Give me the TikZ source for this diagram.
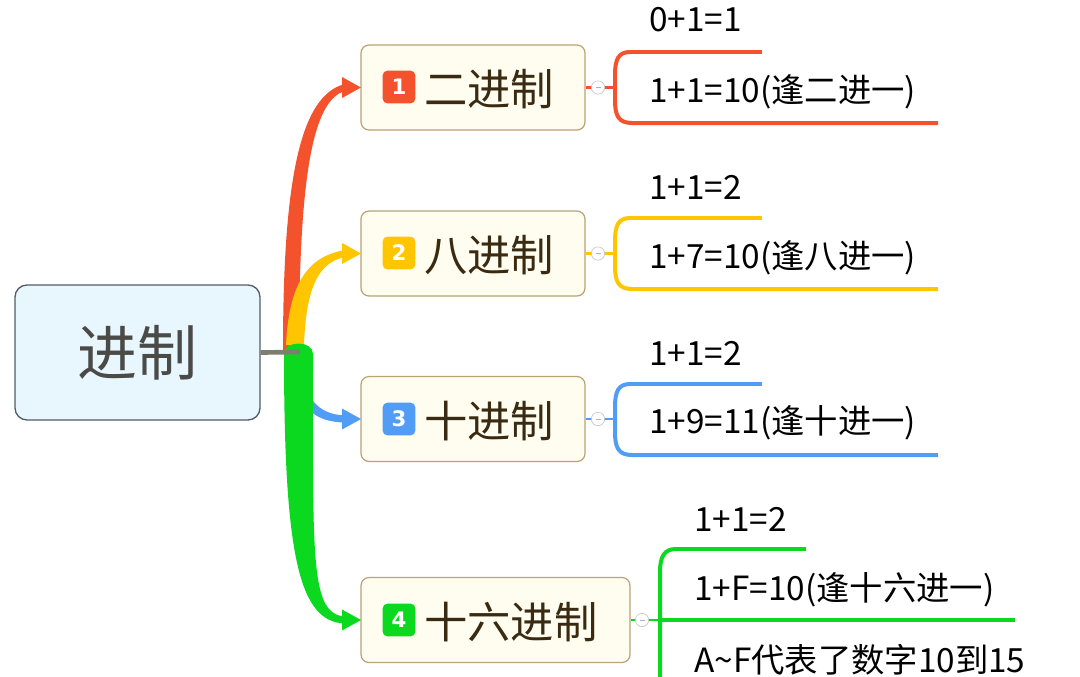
\documentclass[tikz,border=0pt]{standalone}
\usepackage{fontspec}
\setmainfont{Noto Sans CJK SC}
\newfontfamily\numfont{DejaVu Sans}
\usetikzlibrary{calc}
\definecolor{cred}{HTML}{F4512D}
\definecolor{cyel}{HTML}{FFC600}
\definecolor{cblu}{HTML}{519CF4}
\definecolor{cgrn}{HTML}{0BD91F}
\definecolor{boxfill}{HTML}{FFFDF0}
\definecolor{boxborder}{HTML}{B9A274}
\definecolor{cenfill}{HTML}{E8F6FE}
\definecolor{cenborder}{HTML}{535C66}
\definecolor{centxt}{HTML}{4A4A46}
\definecolor{topictxt}{HTML}{3A2A12}
\definecolor{hubline}{HTML}{7F7D6C}
\begin{document}
\begin{tikzpicture}[x=0.75pt,y=-0.75pt,
  central/.style={draw=cenborder, fill=cenfill, rounded corners=9pt, line width=1pt,
    minimum width=183.75pt, minimum height=101.25pt, inner sep=0, text=centxt,
    font=\fontsize{45}{45}\selectfont},
  topicbox/.style={draw=boxborder, fill=boxfill, rounded corners=6pt, line width=0.9pt,
    minimum height=63.75pt, inner sep=0},
  icon/.style={rounded corners=3.5pt, minimum width=24.5pt, minimum height=24.5pt, inner sep=0,
    text=white, font=\numfont\bfseries\fontsize{16}{16}\selectfont},
  topictext/.style={anchor=west, text=topictxt, inner sep=0, font=\fontsize{32.5}{32.5}\selectfont},
  leaf/.style={anchor=west, inner sep=0, text=black, font=\fontsize{25}{25}\selectfont},
  bracel/.style={line width=3pt, line cap=butt},
  collapse/.style={circle, draw=gray!45, fill=white, minimum size=10pt, inner sep=0, line width=0.5pt},
]
\useasboundingbox (0,0) rectangle (1080,676);
\clip (0,0) rectangle (1080,676);

% central node
\node[central] (cen) at (137.5,352.5) {进制};

% topic boxes
\node[topicbox, minimum width=168pt] (b1) at (473,87.5) {};
\node[topicbox, minimum width=168pt] (b2) at (473,253.5) {};
\node[topicbox, minimum width=168pt] (b3) at (473,419) {};
\node[topicbox, minimum width=201.75pt] (b4) at (495.5,620) {};

\node[icon, fill=cred] (i1) at (399,87) {1};
\node[icon, fill=cyel] (i2) at (399,253) {2};
\node[icon, fill=cblu] (i3) at (399,419) {3};
\node[icon, fill=cgrn] (i4) at (399,620) {4};

\node[topictext] (t1) at (424,89) {二进制};
\node[topictext] (t2) at (424,255) {八进制};
\node[topictext] (t3) at (424,421) {十进制};
\node[topictext] (t4) at (424,622) {十六进制};

% tapered branches
\fill[cred] (283,350) .. controls (283,180) and (300,95) .. (345,84)
  -- (345,91) .. controls (312,100) and (299,180) .. (299,350) -- cycle;
\fill[cred] (342,77) -- (361,87.5) -- (342,98) -- cycle;
\fill[cyel] (286,345) .. controls (289,280) and (310,256) .. (345,250)
  -- (345,257) .. controls (320,262) and (306,285) .. (304,345) -- cycle;
\fill[cyel] (342,243) -- (361,253.5) -- (342,264) -- cycle;
\fill[cblu] (298,352) .. controls (303,400) and (318,414) .. (345,415.5)
  -- (345,422.5) .. controls (312,422) and (300,405) .. (296,380) -- cycle;
\fill[cblu] (342,408.5) -- (361,419) -- (342,429.5) -- cycle;
\fill[cgrn] (284,354) .. controls (284,340) and (313,340) .. (313,354)
  .. controls (313,560) and (310,614) .. (345,616.5)
  -- (345,623.5) .. controls (300,622) and (284,560) .. (284,354) -- cycle;
\fill[cgrn] (342,609.5) -- (361,620) -- (342,630.5) -- cycle;

% hub line
\coordinate (hub) at (300,352);
\draw[hubline, line width=3.5pt] (cen.east) -- (hub);

% ---- branch 1
\draw[cred, line width=2pt] (b1.east) -- (615,87.5);
\node[collapse] (k1) at (598,87.5) {};
\draw[gray!60, line width=0.5pt] ($(k1)+(-2.5,0)$) -- ($(k1)+(2.5,0)$);
\draw[cred, bracel] (630,52) .. controls (618,52) and (615,60) .. (615,75) -- (615,100)
  .. controls (615,115) and (618,123) .. (632,123) -- (938,123);
\draw[cred, bracel] (628,52) -- (762,52);
\node[leaf] (c11) at (649,20) {0+1=1};
\node[leaf] (c12) at (649,92) {1+1=10(逢二进一)};

% ---- branch 2
\draw[cyel, line width=2pt] (b2.east) -- (615,253.5);
\node[collapse] (k2) at (598,253.5) {};
\draw[gray!60, line width=0.5pt] ($(k2)+(-2.5,0)$) -- ($(k2)+(2.5,0)$);
\draw[cyel, bracel] (630,218) .. controls (618,218) and (615,226) .. (615,241) -- (615,266)
  .. controls (615,281) and (618,289) .. (632,289) -- (938,289);
\draw[cyel, bracel] (628,218) -- (762,218);
\node[leaf] (c21) at (649,187) {1+1=2};
\node[leaf] (c22) at (649,258) {1+7=10(逢八进一)};

% ---- branch 3
\draw[cblu, line width=2pt] (b3.east) -- (615,419);
\node[collapse] (k3) at (598,419) {};
\draw[gray!60, line width=0.5pt] ($(k3)+(-2.5,0)$) -- ($(k3)+(2.5,0)$);
\draw[cblu, bracel] (630,384) .. controls (618,384) and (615,392) .. (615,407) -- (615,432)
  .. controls (615,447) and (618,455) .. (632,455) -- (938,455);
\draw[cblu, bracel] (628,384) -- (762,384);
\node[leaf] (c31) at (649,353) {1+1=2};
\node[leaf] (c32) at (649,423) {1+9=11(逢十进一)};

% ---- branch 4
\draw[cgrn, line width=2pt] (b4.east) -- (660,620);
\node[collapse] (k4) at (642,620) {};
\draw[gray!60, line width=0.5pt] ($(k4)+(-2.5,0)$) -- ($(k4)+(2.5,0)$);
\draw[cgrn, bracel] (676,549) .. controls (664,549) and (660,557) .. (660,572) -- (660,690);
\draw[cgrn, bracel] (674,549) -- (806,549);
\draw[cgrn, bracel] (660,620) -- (1015,620);
\node[leaf] (c41) at (694,519) {1+1=2};
\node[leaf] (c42) at (694,590) {1+F=10(逢十六进一)};
\node[leaf] (c43) at (694,660) {A\textasciitilde F代表了数字10到15};
\end{tikzpicture}
\end{document}
